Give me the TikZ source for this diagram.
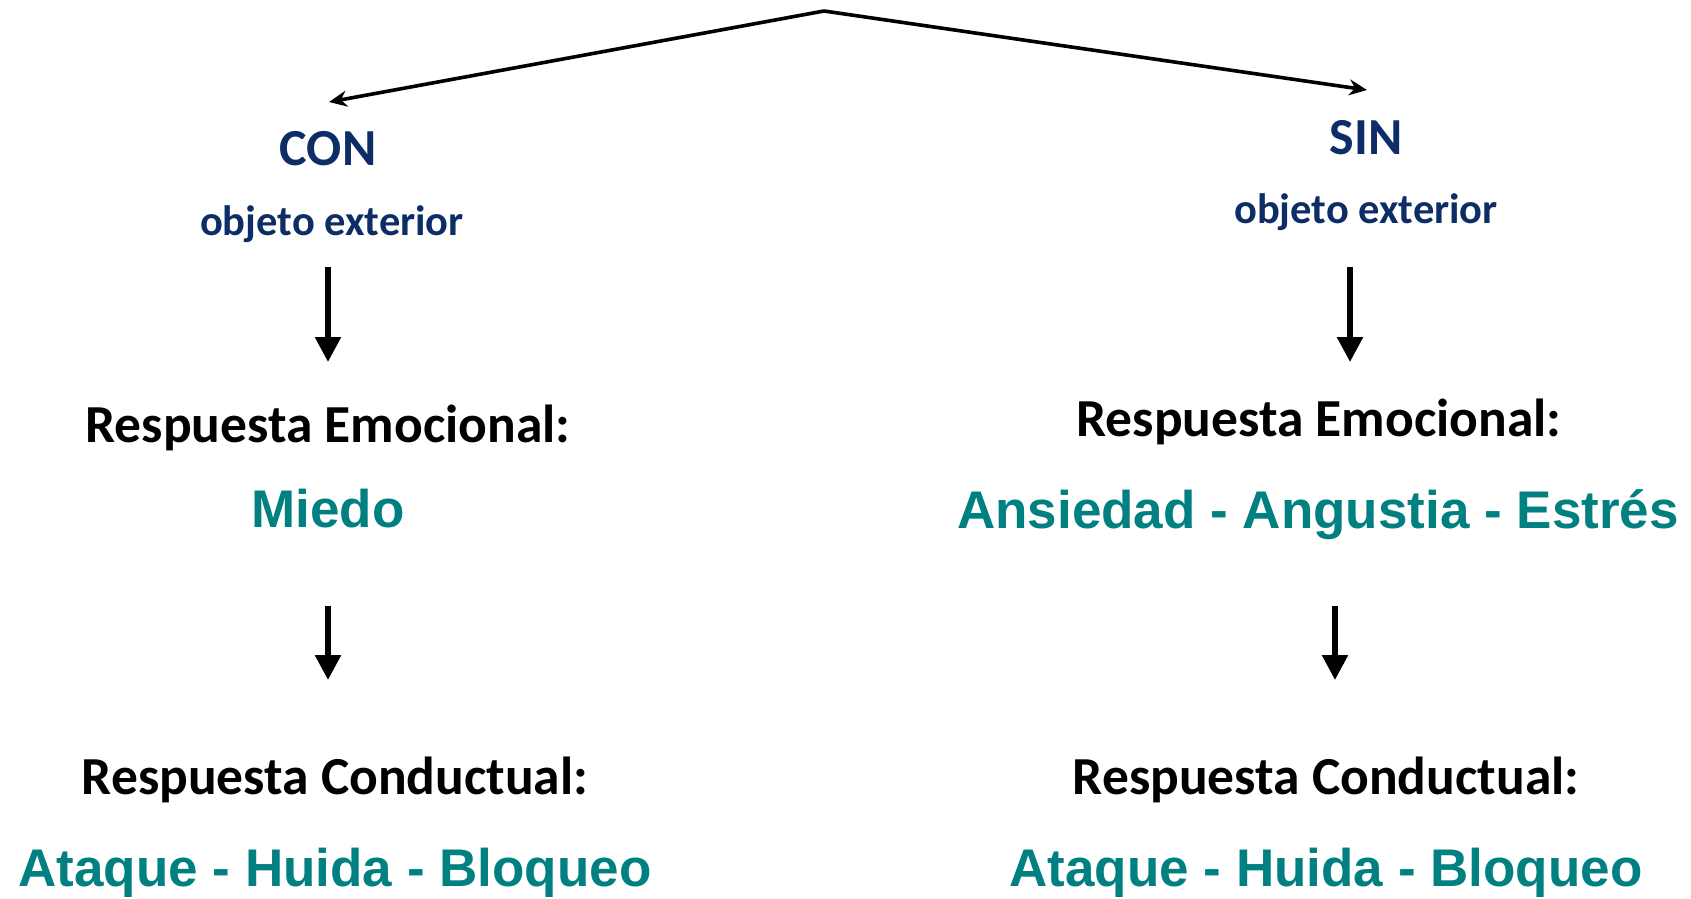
\documentclass[tikz,border=0pt]{standalone}
\usepackage{fontspec}
\usetikzlibrary{arrows.meta}
\newfontfamily\calib{Carlito}[BoldFont={* Bold}]
\newfontfamily\arialf{Liberation Sans}
\definecolor{navy}{HTML}{0D2D66}
\definecolor{tealc}{HTML}{008080}
\begin{document}
\begin{tikzpicture}[x=1pt,y=-1pt,
  topline/.style={line width=3.6pt,-{Stealth[length=18pt,width=16pt,inset=6pt]}},
  downarrow/.style={line width=5.5pt,-{Triangle[length=25pt,width=25pt]}},
  headtxt/.style={inner sep=0pt,anchor=base,text=navy,font=\calib\bfseries\fontsize{52}{60}\selectfont},
  subtxt/.style={inner sep=0pt,anchor=base,text=navy,font=\calib\bfseries\fontsize{42.5}{50}\selectfont},
  resptxt/.style={inner sep=0pt,anchor=base,text=black,font=\calib\bfseries\fontsize{53.5}{60}\selectfont},
  valtxt/.style={inner sep=0pt,anchor=base,text=tealc,font=\arialf\bfseries\fontsize{53}{60}\selectfont}]
\useasboundingbox (0,0) rectangle (1691,898);
% top connectors
\coordinate (apex) at (824,11);
\coordinate (tipL) at (329,102);
\coordinate (tipR) at (1367,90);
\draw[topline] (apex) -- (tipL);
\draw[topline] (apex) -- (tipR);
% left column
\node[headtxt] (con) at (328,165) {CON};
\node[subtxt] (objL) at (332,235) {objeto exterior};
\node[resptxt] (remL) at (328,442) {Respuesta Emocional:};
\node[valtxt] (miedo) at (328,527) {Miedo};
\node[resptxt] (rcoL) at (335,794) {Respuesta Conductual:};
\node[valtxt] (ataL) at (335,886) {Ataque - Huida - Bloqueo};
% right column
\node[headtxt] (sin) at (1366,154) {SIN};
\node[subtxt] (objR) at (1366,223) {objeto exterior};
\node[resptxt] (remR) at (1319,436) {Respuesta Emocional:};
\node[valtxt] (ans) at (1318,528) {Ansiedad - Angustia - Estrés};
\node[resptxt] (rcoR) at (1326,794) {Respuesta Conductual:};
\node[valtxt] (ataR) at (1326,886) {Ataque - Huida - Bloqueo};
% vertical arrows
\coordinate (a1s) at (328,267); \coordinate (a1e) at (328,362);
\coordinate (a2s) at (328,606); \coordinate (a2e) at (328,680);
\coordinate (a3s) at (1350,267); \coordinate (a3e) at (1350,362);
\coordinate (a4s) at (1335,606); \coordinate (a4e) at (1335,680);
\draw[downarrow] (a1s) -- (a1e);
\draw[downarrow] (a2s) -- (a2e);
\draw[downarrow] (a3s) -- (a3e);
\draw[downarrow] (a4s) -- (a4e);
\end{tikzpicture}
\end{document}
